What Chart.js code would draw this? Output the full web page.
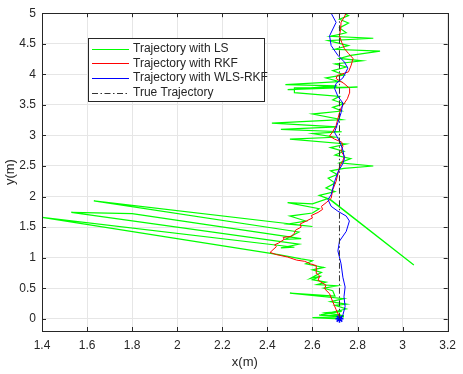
<!DOCTYPE html>
<html>
<head>
<meta charset="utf-8">
<script src="https://cdn.jsdelivr.net/npm/chart.js@4.4.1/dist/chart.umd.min.js"></script>
<style>
html, body { margin: 0; padding: 0; background: #fff; }
</style>
</head>
<body>
<canvas id="c" width="463" height="374"></canvas>
<script>
// axis ticks
const xTicks = [1.4, 1.6, 1.8, 2, 2.2, 2.4, 2.6, 2.8, 3, 3.2];
const yTicks = [0, 0.5, 1, 1.5, 2, 2.5, 3, 3.5, 4, 4.5, 5];

// Trajectory with LS (green)
const lsX = [2.72, 2.60, 2.74, 2.63, 2.74, 2.66, 2.73, 2.64, 2.75, 2.70, 2.75,
  2.68, 2.74, 2.50, 2.70, 2.69, 2.65, 2.71, 2.62, 2.66, 2.60, 2.64, 2.59, 2.64, 2.60, 2.65, 2.57, 2.60, 2.55, 2.45,
  1.40, 2.52, 2.46, 2.54, 1.53, 1.80, 2.55, 2.48, 2.54, 1.63, 2.60, 2.49, 2.57, 2.50, 2.60, 2.63, 2.49, 2.60, 2.67, 3.05, 2.68,
  2.63, 2.70, 2.66, 2.70, 2.67, 2.71, 2.68, 2.74, 2.87, 2.72, 2.77, 2.70, 2.74, 2.68, 2.75, 2.50, 2.70, 2.60, 2.73, 2.46,
  2.71, 2.42, 2.73, 2.60, 2.73, 2.69, 2.74, 2.69, 2.72, 2.52, 2.52, 2.80, 2.49, 2.71, 2.48, 2.72, 2.66, 2.74, 2.69, 2.75,
  2.70, 2.82, 2.72, 2.77, 2.90, 2.70, 2.76, 2.67, 2.87, 2.68, 2.75, 2.72, 2.76, 2.72, 2.76, 2.74];
const lsY = [0.00, 0.02, 0.03, 0.06, 0.05, 0.10, 0.12, 0.07, 0.16, 0.22, 0.24,
  0.28, 0.33, 0.42, 0.37, 0.46, 0.50, 0.54, 0.56, 0.60, 0.64, 0.70, 0.66, 0.76, 0.80, 0.84, 0.90, 0.95, 0.98, 1.05,
  1.66, 1.17, 1.16, 1.22, 1.74, 1.72, 1.31, 1.30, 1.42, 1.93, 1.51, 1.55, 1.60, 1.68, 1.73, 1.80, 1.90, 1.88, 1.97, 0.88, 1.95,
  2.02, 2.08, 2.14, 2.22, 2.30, 2.36, 2.42, 2.46, 2.50, 2.55, 2.62, 2.68, 2.74, 2.80, 2.86, 2.94, 2.97, 3.03, 3.06, 3.10,
  3.14, 3.20, 3.26, 3.35, 3.40, 3.46, 3.52, 3.58, 3.64, 3.70, 3.78, 3.79, 3.75, 3.81, 3.83, 3.88, 3.94, 3.99, 4.06, 4.12,
  4.17, 4.22, 4.26, 4.31, 4.38, 4.41, 4.47, 4.55, 4.59, 4.62, 4.68, 4.76, 4.84, 4.90, 4.96, 5.00];

// Trajectory with RKF (red)
const rkfX = [2.72, 2.705, 2.69, 2.676, 2.654, 2.66, 2.625, 2.632, 2.62, 2.617, 2.59, 2.566, 2.53, 2.49, 2.44, 2.412,
  2.425, 2.44, 2.432, 2.45, 2.462, 2.475, 2.47, 2.507, 2.52, 2.525, 2.55, 2.545, 2.573, 2.60, 2.595, 2.625, 2.645, 2.64, 2.661, 2.683, 2.69, 2.705,
  2.72, 2.735, 2.742, 2.727, 2.735, 2.73, 2.698, 2.676, 2.69, 2.705, 2.712, 2.72, 2.727, 2.742, 2.755, 2.764,
  2.765, 2.74, 2.705, 2.71, 2.76, 2.772, 2.78, 2.76, 2.742, 2.73, 2.72, 2.725, 2.727, 2.74, 2.75];
const rkfY = [0.03, 0.15, 0.28, 0.41, 0.49, 0.55, 0.63, 0.70, 0.74, 0.87, 0.90, 0.94, 0.96, 1.01, 1.05, 1.085,
  1.13, 1.18, 1.21, 1.24, 1.27, 1.30, 1.33, 1.35, 1.40, 1.45, 1.50, 1.55, 1.60, 1.65, 1.69, 1.74, 1.79, 1.84, 1.90, 1.97, 2.11, 2.25,
  2.48, 2.59, 2.66, 2.74, 2.82, 2.89, 2.94, 2.99, 3.06, 3.16, 3.26, 3.37, 3.45, 3.53, 3.60, 3.69,
  3.77, 3.85, 3.93, 3.98, 4.04, 4.15, 4.26, 4.34, 4.42, 4.52, 4.63, 4.74, 4.85, 4.93, 5.00];

// Trajectory with WLS-RKF (blue)
const wlsX = [2.72, 2.735, 2.745, 2.74, 2.745, 2.735, 2.727, 2.713, 2.72, 2.75, 2.764, 2.75, 2.713, 2.683,
  2.669, 2.683, 2.698, 2.713, 2.735, 2.742, 2.735, 2.72, 2.698, 2.713, 2.727, 2.735, 2.713, 2.698, 2.705,
  2.735, 2.757, 2.742, 2.713, 2.683, 2.676, 2.705, 2.683];
const wlsY = [-0.04, 0.06, 0.20, 0.36, 0.52, 0.68, 0.90, 1.11, 1.27, 1.43, 1.60, 1.68, 1.76, 1.84,
  1.95, 2.03, 2.24, 2.40, 2.54, 2.62, 2.76, 2.91, 3.05, 3.21, 3.37, 3.53, 3.64, 3.77, 3.85,
  3.94, 4.10, 4.20, 4.31, 4.47, 4.63, 4.85, 5.00];

// True Trajectory
const trueX = [2.72, 2.72];
const trueY = [0, 5];

const zip = (xs, ys) => xs.map((x, i) => ({ x: x, y: ys[i] }));
const FONT = '"Liberation Sans", Arial, Helvetica, sans-serif';
const INK = '#262626';

const legendItems = [
  { label: 'Trajectory with LS', color: '#00ff00', dash: [] },
  { label: 'Trajectory with RKF', color: '#ff0000', dash: [] },
  { label: 'Trajectory with WLS-RKF', color: '#0000ff', dash: [] },
  { label: 'True Trajectory', color: '#333333', dash: [6, 2.5, 1.5, 2.5] }
];

// MATLAB style box, inner ticks and legend
const boxPlugin = {
  id: 'box',
  afterDatasetsDraw(chart) {
    const ctx = chart.ctx;
    const a = chart.chartArea;
    const xs = chart.scales.x, ys = chart.scales.y;
    ctx.save();
    ctx.strokeStyle = INK;
    ctx.lineWidth = 1;
    ctx.strokeRect(Math.round(a.left) + 0.5, Math.round(a.top) + 0.5,
      Math.round(a.right - a.left), Math.round(a.bottom - a.top));
    ctx.beginPath();
    xTicks.forEach(v => {
      const p = Math.round(xs.getPixelForValue(v)) + 0.5;
      ctx.moveTo(p, a.bottom); ctx.lineTo(p, a.bottom - 4);
      ctx.moveTo(p, a.top); ctx.lineTo(p, a.top + 4);
    });
    yTicks.forEach(v => {
      const p = Math.round(ys.getPixelForValue(v)) + 0.5;
      ctx.moveTo(a.left, p); ctx.lineTo(a.left + 4, p);
      ctx.moveTo(a.right, p); ctx.lineTo(a.right - 4, p);
    });
    ctx.stroke();

    // legend
    const lx = 88.5, ly = 38.5, lw = 176, lh = 63;
    ctx.fillStyle = '#fff';
    ctx.fillRect(lx, ly, lw, lh);
    ctx.strokeStyle = INK;
    ctx.strokeRect(lx, ly, lw, lh);
    ctx.font = '12px ' + FONT;
    ctx.textBaseline = 'middle';
    legendItems.forEach((it, i) => {
      const y = 48.5 + i * 14.8;
      ctx.beginPath();
      ctx.setLineDash(it.dash);
      ctx.strokeStyle = it.color;
      ctx.moveTo(92, Math.round(y) + 0.5);
      ctx.lineTo(129, Math.round(y) + 0.5);
      ctx.stroke();
      ctx.setLineDash([]);
      ctx.fillStyle = INK;
      ctx.fillText(it.label, 133, y);
    });
    ctx.restore();
  }
};

new Chart(document.getElementById('c'), {
  type: 'scatter',
  data: {
    datasets: [
      { label: 'True Trajectory', data: zip(trueX, trueY), showLine: true, borderColor: '#333333',
        borderWidth: 1, borderDash: [6, 2.5, 1.5, 2.5], pointRadius: 0, order: 0 },
      { label: 'start', data: [{ x: 2.72, y: 0 }], pointStyle: 'star', pointRadius: 4,
        borderColor: '#0000ff', backgroundColor: '#0000ff', borderWidth: 1.5, order: 1 },
      { label: 'Trajectory with WLS-RKF', data: zip(wlsX, wlsY), showLine: true, borderColor: '#0000ff',
        borderWidth: 1, pointRadius: 0, order: 2 },
      { label: 'Trajectory with RKF', data: zip(rkfX, rkfY), showLine: true, borderColor: '#ff0000',
        borderWidth: 1, pointRadius: 0, order: 3 },
      { label: 'Trajectory with LS', data: zip(lsX, lsY), showLine: true, borderColor: '#00ff00',
        borderWidth: 1.2, pointRadius: 0, order: 4 }
    ]
  },
  options: {
    responsive: false,
    animation: false,
    devicePixelRatio: 1,
    layout: { padding: { top: 9, right: 12, left: 0, bottom: 0 } },
    plugins: { legend: { display: false }, tooltip: { enabled: false } },
    scales: {
      x: {
        type: 'linear', min: 1.4, max: 3.2,
        afterBuildTicks: s => { s.ticks = xTicks.map(v => ({ value: v })); },
        afterFit: s => { s.height = 43; },
        grid: { color: '#e6e6e6', drawTicks: false },
        border: { display: false },
        ticks: { color: INK, font: { family: FONT, size: 12 }, padding: 7,
          callback: v => String(+v.toFixed(1)) },
        title: { display: true, text: 'x(m)', color: INK, font: { family: FONT, size: 13 },
          padding: { top: 0, bottom: 4 } }
      },
      y: {
        type: 'linear', min: -0.2, max: 5,
        afterBuildTicks: s => { s.ticks = yTicks.map(v => ({ value: v })); },
        afterFit: s => { s.width = 42; },
        grid: { color: '#e6e6e6', drawTicks: false },
        border: { display: false },
        ticks: { color: INK, font: { family: FONT, size: 12 }, padding: 6,
          callback: v => String(+v.toFixed(1)) },
        title: { display: true, text: 'y(m)', color: INK, font: { family: FONT, size: 13 },
          padding: { top: 3, bottom: 0 } }
      }
    }
  },
  plugins: [boxPlugin]
});
</script>
</body>
</html>
